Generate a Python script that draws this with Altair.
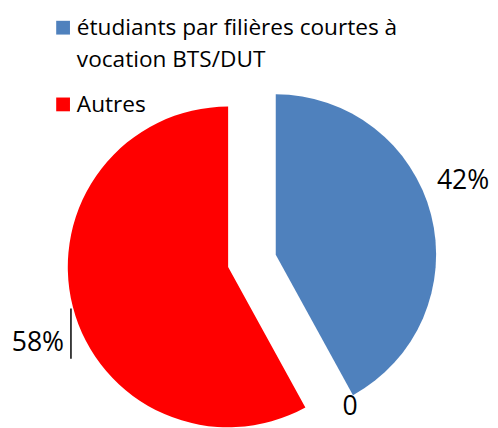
import math
import altair as alt
import pandas as pd

categories = ["étudiants par filières courtes à vocation BTS/DUT", "Autres"]
legend_labels = ["étudiants par filières courtes à\nvocation BTS/DUT", "Autres"]
values = [42, 58]
colors = ["#4F81BD", "#FF0000"]
extra_label = "0"

df = pd.DataFrame({
    "category": categories,
    "legend": legend_labels,
    "value": values,
    "order": list(range(len(categories))),
})

W, H = 482, 412
CX, CY, R, D = 248, 253.5, 163, 25
FONT = "Open Sans"

color = alt.Color("category:N", scale=alt.Scale(domain=categories, range=colors), legend=None)

pie = (
    alt.Chart(df)
    .transform_window(cum="sum(value)", sort=[alt.SortField("order")], frame=[None, 0])
    .transform_calculate(
        start="datum.cum - datum.value",
        mid="(datum.cum - datum.value / 2) / 100 * 2 * PI",
        cx=f"{CX} + {D} * sin(datum.mid)",
        cy=f"{CY} - {D} * cos(datum.mid)",
    )
    .mark_arc(radius=R)
    .encode(
        theta=alt.Theta("start:Q", scale=alt.Scale(domain=[0, 100], range=[0, 2 * math.pi])),
        theta2="cum:Q",
        x=alt.X("cx:Q", scale=None, axis=None),
        y=alt.Y("cy:Q", scale=None, axis=None),
        color=color,
    )
)

layers = [pie]

# legend rows
leg_rows = [(16.5, 24.0), (94.5, 102.0)]
for cat, (sy, ty) in zip(categories, leg_rows):
    sub = alt.Chart(df).transform_filter(alt.datum.category == cat)
    layers.append(
        sub.mark_square(size=196, opacity=1).encode(x=alt.value(56), y=alt.value(sy), color=color)
    )
    layers.append(
        sub.mark_text(align="left", baseline="alphabetic", font=FONT, fontSize=23,
                      lineBreak="\n", lineHeight=32, color="#000000")
        .encode(x=alt.value(70), y=alt.value(ty), text="legend:N")
    )

# slice value labels
lab_pos = [(436, 181, "left"), (57, 345, "right")]
for cat, (lx, ly, al) in zip(categories, lab_pos):
    sub = alt.Chart(df).transform_filter(alt.datum.category == cat).transform_calculate(
        pct="format(datum.value / 100, '.0%')")
    layers.append(
        sub.mark_text(align=al, baseline="alphabetic", font=FONT, fontSize=27, color="#000000")
        .encode(x=alt.value(lx), y=alt.value(ly), text="pct:N")
    )

layers.append(
    alt.Chart(pd.DataFrame({"t": [extra_label]}))
    .mark_text(align="left", baseline="alphabetic", font=FONT, fontSize=27, color="#000000")
    .encode(x=alt.value(340), y=alt.value(410), text="t:N")
)

# leader line for 58%
layers.append(
    alt.Chart(pd.DataFrame({"a": [0]}))
    .mark_rule(color="#000000", strokeWidth=1.5)
    .encode(x=alt.value(64), y=alt.value(302), y2=alt.value(353))
)

chart = (
    alt.layer(*layers)
    .properties(width=W, height=H, padding=0, background="white")
    .configure_view(stroke=None)
)

chart.save("out.html", embed_options={"renderer": "svg", "actions": False})
